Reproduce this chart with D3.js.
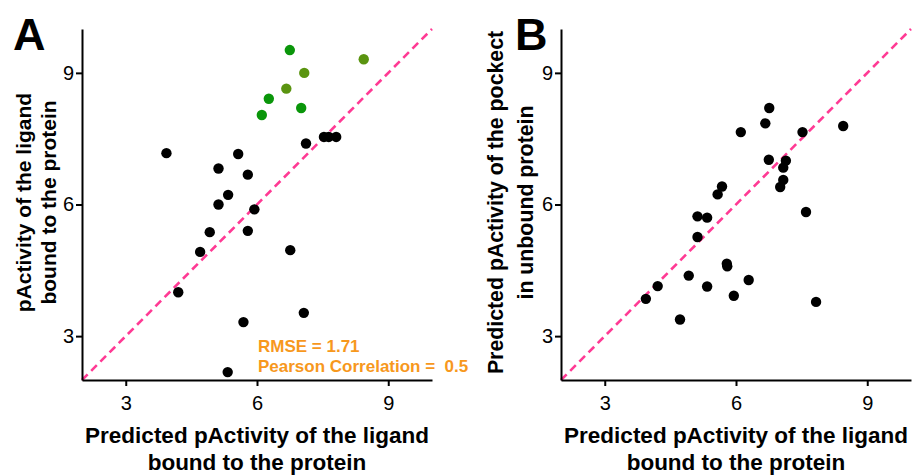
<!DOCTYPE html>
<html>
<head>
  <meta charset="utf-8">
  <script src="https://d3js.org/d3.v7.min.js"></script>
  <style>
    body { margin: 0; background: #fff; }
    svg { font-family: "Liberation Sans", Arial, Helvetica, sans-serif; }
    .tick text { font-size: 20px; fill: #000; }
    .axis path, .axis line { stroke: #000; stroke-width: 2px; }
    .lab { font-weight: bold; fill: #000; }
    .letter { font-weight: bold; font-size: 45px; fill: #000; }
    .stat { font-weight: bold; font-size: 17px; fill: #f7981d; white-space: pre; }
  </style>
</head>
<body>
<script>
// panel A: predicted (ligand, bound) vs measured pActivity
var predA = [3.93, 7.53, 7.64, 7.81, 7.12, 5.57, 5.12, 5.79, 5.34, 5.12, 5.94, 4.92, 5.79,
             4.70, 6.76, 4.20, 7.07, 5.69, 5.33,
             6.75, 8.44, 7.08, 6.67, 6.27, 7.01, 6.11];
var obsA  = [7.17, 7.54, 7.54, 7.54, 7.39, 7.15, 6.82, 6.68, 6.22, 6.00, 5.89, 5.37, 5.40,
             4.92, 4.96, 4.00, 3.53, 3.32, 2.18,
             9.52, 9.31, 9.00, 8.64, 8.41, 8.20, 8.04];
var groupA = ["k","k","k","k","k","k","k","k","k","k","k","k","k",
              "k","k","k","k","k","k",
              "g","o","o","o","g","g","g"];

// panel B: predicted (ligand, bound) vs predicted (pocket, unbound)
var predB   = [6.76, 6.67, 6.11, 7.52, 8.45, 6.75, 7.14, 7.08, 7.08, 7.01, 5.68, 5.58, 7.60,
               5.12, 5.34, 5.12, 5.79, 5.80, 4.92, 6.29, 4.21, 5.34, 5.95, 3.94, 7.83, 4.72];
var pocketB = [8.20, 7.85, 7.65, 7.65, 7.79, 7.02, 7.00, 6.84, 6.56, 6.40, 6.41, 6.23, 5.83,
               5.73, 5.70, 5.26, 4.65, 4.59, 4.38, 4.28, 4.14, 4.13, 3.92, 3.85, 3.78, 3.38];

var tickVals = [3, 6, 9];
var dom = [2, 10];
var rmse = "1.71", pearson = "0.5";

var colors = { k: "#000000", g: "#0a960a", o: "#5a9410" };
var pink = "#ff3a94";

var svg = d3.select("body").append("svg")
    .attr("width", 914)
    .attr("height", 475);

function panel(left, xs, ys, grp, letter, letterX, ylab, ylabX, ylabGap, ylabSize) {
  var top = 29, bottom = 380;
  var x = d3.scaleLinear().domain(dom).range([left, left + 350]);
  var y = d3.scaleLinear().domain(dom).range([bottom, top]);

  // y = x reference line
  svg.append("line")
      .attr("x1", x(2)).attr("y1", y(2))
      .attr("x2", x(10)).attr("y2", y(10))
      .style("stroke", pink)
      .style("stroke-width", 2.6)
      .style("stroke-dasharray", "8,5");

  svg.append("g")
      .attr("class", "axis")
      .attr("transform", "translate(0," + bottom + ")")
      .call(d3.axisBottom(x).tickValues(tickVals).tickSize(6).tickSizeOuter(0).tickPadding(10));

  svg.append("g")
      .attr("class", "axis")
      .attr("transform", "translate(" + left + ",0)")
      .call(d3.axisLeft(y).tickValues(tickVals).tickSize(6).tickSizeOuter(0).tickPadding(2));

  svg.selectAll(null)
      .data(xs)
      .enter()
      .append("circle")
      .attr("cx", function (d) { return x(d); })
      .attr("cy", function (d, i) { return y(ys[i]); })
      .attr("r", 5.2)
      .style("fill", function (d, i) { return colors[grp ? grp[i] : "k"]; });

  svg.append("text")
      .attr("class", "letter")
      .attr("x", letterX)
      .attr("y", 50)
      .text(letter);

  // x title, two lines
  svg.selectAll(null)
      .data(["Predicted pActivity of the ligand", "bound to the protein"])
      .enter()
      .append("text")
      .attr("class", "lab")
      .style("font-size", "22.5px")
      .attr("text-anchor", "middle")
      .attr("x", left + 175)
      .attr("y", function (d, i) { return 443 + i * 27; })
      .text(function (d) { return d; });

  // y title, two lines rotated
  svg.selectAll(null)
      .data(ylab)
      .enter()
      .append("text")
      .attr("class", "lab")
      .style("font-size", ylabSize + "px")
      .attr("text-anchor", "middle")
      .attr("transform", function (d, i) {
        return "translate(" + (ylabX + i * ylabGap) + "," + ((top + bottom) / 2 - 2) + ") rotate(-90)";
      })
      .text(function (d) { return d; });
}

panel(82, predA, obsA, groupA, "A", 13,
      ["pActivity of the ligand", "bound to the protein"], 31, 25, 21);
panel(561, predB, pocketB, null, "B", 515,
      ["Predicted pActivity of the pockect", "in unbound protein"], 503, 30, 21.3);

svg.append("text").attr("class", "stat").attr("x", 258).attr("y", 352)
    .text("RMSE = " + rmse);
svg.append("text").attr("class", "stat").attr("x", 258).attr("y", 372)
    .text("Pearson Correlation =  " + pearson);
</script>
</body>
</html>
